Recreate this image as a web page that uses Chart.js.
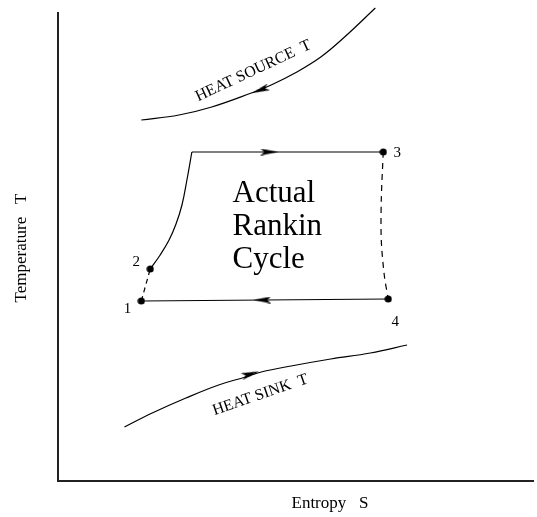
<!DOCTYPE html>
<html>
<head>
<meta charset="utf-8">
<script src="https://cdn.jsdelivr.net/npm/chart.js@4/dist/chart.umd.min.js"></script>
<style>
  html, body { margin: 0; padding: 0; background: #fff; }
  #wrap { width: 537px; height: 517px; }
</style>
</head>
<body>
<div id="wrap"><canvas id="tsChart"></canvas></div>
<script>
// entropy / temperature, arbitrary units
const sourceS = [84, 122, 155, 195, 215, 239, 265, 289, 320];
const sourceT = [361, 366, 374, 388, 396, 408, 424, 444, 473];

const sinkS = [67, 95, 129, 162, 189, 205, 235, 275, 315, 352];
const sinkT = [54, 68, 83, 96, 104, 109, 115, 122, 128, 136];

// 2 -> start of boiling (solid curve)
const liquidS = [93, 103, 112, 119, 125, 130, 135];
const liquidT = [212, 226, 241, 257, 276, 301, 329];

// boiling, then 4 -> 1 condenser (solid)
const boilS = [135, 328];
const boilT = [329, 329];
const condS = [333, 84];
const condT = [182, 180];

// 1 -> 2 pump, 3 -> 4 turbine (dashed)
const pumpS = [84, 93];
const pumpT = [180, 212];
const turbS = [328, 326, 326, 329, 333];
const turbT = [329, 281, 241, 206, 182];

const stateS = [84, 93, 328, 333];
const stateT = [180, 212, 329, 182];

const arrowS = [204, 213, 206, 194];
const arrowT = [391, 329, 181, 107];
const arrowDir = [160, 0, 180, -17];

const toPts = (xs, ys) => xs.map((x, i) => ({ x: x, y: ys[i] }));

// arrow head image, points to the right
const head = document.createElement('canvas');
head.width = 18; head.height = 7;
const hc = head.getContext('2d');
hc.fillStyle = '#000';
hc.beginPath();
hc.moveTo(0, 0); hc.lineTo(18, 3.5); hc.lineTo(0, 7); hc.lineTo(4, 3.5);
hc.closePath();
hc.fill();

// state point dot
const dot = document.createElement('canvas');
dot.width = 8; dot.height = 8;
const dc = dot.getContext('2d');
dc.fillStyle = '#000';
dc.beginPath();
dc.arc(4, 4, 3.6, 0, Math.PI * 2);
dc.fill();

const serif = '"Liberation Serif", "DejaVu Serif", serif';

const notes = [
  { text: 'HEAT SOURCE  T', s: 197, t: 410, rot: -25, size: 16 },
  { text: 'HEAT SINK  T', s: 204, t: 86, rot: -19, size: 16 },
  { text: '1', s: 70, t: 172, rot: 0, size: 15 },
  { text: '2', s: 79, t: 219, rot: 0, size: 15 },
  { text: '3', s: 342, t: 328, rot: 0, size: 15 },
  { text: '4', s: 340, t: 159, rot: 0, size: 15 }
];
const cycleLines = ['Actual', 'Rankin', 'Cycle'];

const textPlugin = {
  id: 'textPlugin',
  afterDraw(chart) {
    const { ctx, scales: { x, y } } = chart;
    ctx.save();
    ctx.fillStyle = '#000';
    ctx.textAlign = 'center';
    ctx.textBaseline = 'middle';
    notes.forEach(n => {
      ctx.save();
      ctx.translate(x.getPixelForValue(n.s), y.getPixelForValue(n.t));
      ctx.rotate(n.rot * Math.PI / 180);
      ctx.font = n.size + 'px ' + serif;
      ctx.fillText(n.text, 0, 0);
      ctx.restore();
    });

    ctx.font = '31px ' + serif;
    ctx.textAlign = 'left';
    ctx.textBaseline = 'alphabetic';
    const bx = x.getPixelForValue(176);
    cycleLines.forEach((line, i) => {
      ctx.fillText(line, bx, y.getPixelForValue(279 - i * 33));
    });

    // axis titles
    ctx.font = '17px ' + serif;
    ctx.textAlign = 'center';
    ctx.textBaseline = 'middle';
    ctx.fillText('Entropy   S', 330, chart.chartArea.bottom + 23);
    ctx.save();
    ctx.translate(22, 248);
    ctx.rotate(-Math.PI / 2);
    ctx.fillText('Temperature   T', 0, 0);
    ctx.restore();
    ctx.restore();
  }
};

const line = (pts, dash, tension) => ({
  data: pts,
  showLine: true,
  borderColor: '#000',
  borderWidth: 1.2,
  borderDash: dash || [],
  tension: tension === undefined ? 0.4 : tension,
  pointRadius: 0,
  clip: false
});

new Chart(document.getElementById('tsChart'), {
  type: 'scatter',
  data: {
    datasets: [
      line(toPts(sourceS, sourceT)),
      line(toPts(sinkS, sinkT)),
      line(toPts(liquidS, liquidT)),
      line(toPts(boilS, boilT), null, 0),
      line(toPts(condS, condT), null, 0),
      line(toPts(pumpS, pumpT), [5, 4], 0),
      line(toPts(turbS, turbT), [6, 5], 0.3),
      {
        data: toPts(stateS, stateT),
        pointStyle: dot,
        pointRadius: 0.1,
        pointBorderWidth: 0,
        clip: false
      },
      {
        data: toPts(arrowS, arrowT),
        pointStyle: head,
        rotation: arrowDir,
        pointRadius: 0.1,
        pointBorderWidth: 0,
        clip: false
      }
    ]
  },
  options: {
    responsive: true,
    maintainAspectRatio: false,
    animation: false,
    layout: { padding: { left: 58, top: 13, right: 0, bottom: 36 } },
    plugins: {
      legend: { display: false },
      tooltip: { enabled: false }
    },
    scales: {
      x: {
        min: 0, max: 479,
        ticks: { display: false },
        grid: { display: false, drawTicks: false },
        border: { display: true, color: '#222', width: 2 }
      },
      y: {
        min: 0, max: 468,
        ticks: { display: false },
        grid: { display: false, drawTicks: false },
        border: { display: true, color: '#222', width: 2 }
      }
    }
  },
  plugins: [textPlugin]
});
</script>
</body>
</html>
